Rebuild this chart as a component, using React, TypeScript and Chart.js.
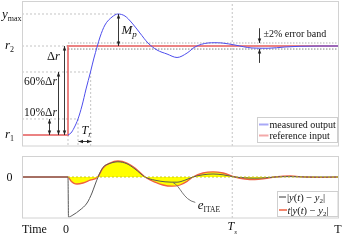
import React, { useEffect, useRef } from 'react';
import { Chart, registerables } from 'chart.js';

Chart.register(...registerables);

// ---- axis ranges & key levels ----
const X_MIN = -2.8;
const X_MAX = 16.5;
const Y_BOTTOM = -0.124;
const Y_TOP = 1.506;
const E_MIN = -1.025;
const E_MAX = 0.525;

const R1 = 0;
const R2 = 1;
const Y_MAX = 1.36;
const TEN_PCT = 0.18;
const SIXTY_PCT = 0.708;
const BAND = 0.034;
const T_10 = 0.61;
const T_60 = 1.38;
const T_PEAK = 3.04;
const T_S = 10;

// ---- measured output (step response) ----
const outputT = [0, 0.18, 0.37, 0.61, 0.85, 1.1, 1.37, 1.58, 1.77, 1.95, 2.25, 2.68, 3.04, 3.47, 3.9, 4.38, 4.87, 5.42, 6.03, 6.64, 7.25, 7.73, 8.52, 8.95, 9.38, 10.17, 11.2, 12.18, 13.21, 14.13, 15.34, 16.5];
const outputY = [0, 0.022, 0.079, 0.18, 0.326, 0.517, 0.708, 0.865, 0.989, 1.101, 1.236, 1.326, 1.36, 1.337, 1.258, 1.146, 1.034, 0.955, 0.91, 0.871, 0.921, 0.989, 1.034, 1.037, 1.034, 1.011, 0.978, 0.975, 0.989, 0.997, 1.0, 1.0];

// ---- reference input (step) ----
const referenceT = [X_MIN, 0, 0, X_MAX];
const referenceY = [R1, R1, R2, R2];

// ---- error |y(t) - y2| ----
const errT = [X_MIN, 0, 0.03, 0.3, 0.73, 1.16, 1.46, 1.64, 1.83, 2.13, 2.56, 3.04, 3.59, 4.08, 4.69, 5.3, 5.91, 6.64, 7.12, 7.61, 8.22, 8.83, 9.44, 10.17, 10.78, 11.38, 11.99, 12.6, 13.52, 14.43, 15.34, 16.5];
const errAbs = [0, 0, -1, -0.95, -0.825, -0.65, -0.4, -0.2, 0, 0.24, 0.34, 0.38, 0.33, 0.2, 0, -0.08, -0.12, -0.13, -0.08, 0, 0.055, 0.075, 0.055, 0, -0.02, -0.03, -0.02, 0, 0.01, 0, 0, 0];

// ---- time-weighted error t|y(t) - y2| ----
const itaeT = [X_MIN, 0, 0.18, 0.37, 0.55, 0.91, 1.34, 1.81, 2.13, 2.56, 3.04, 3.59, 4.08, 4.69, 5.3, 5.78, 6.33, 6.82, 7.25, 7.61, 8.22, 8.83, 9.44, 10.17, 10.78, 11.38, 11.99, 12.6, 13.52, 14.43, 15.34, 16.5];
const itaeVal = [0, 0, -0.1, -0.16, -0.175, -0.15, -0.08, 0, 0.225, 0.35, 0.4, 0.35, 0.225, 0, -0.13, -0.2, -0.23, -0.2, -0.11, 0, 0.1, 0.13, 0.1, 0, -0.05, -0.065, -0.04, 0, 0.025, 0, -0.008, 0];

// ---- text ----
const topLegend = ['measured output', 'reference input'];
const timeLabels = ['Time', '0', 'T', 'T'];

const SERIF = '"Liberation Serif", "DejaVu Serif", serif';

const mk = (ts: number[], ys: number[]) => ts.map((t, i) => ({ x: t, y: ys[i] }));

function arrow(ctx: CanvasRenderingContext2D, x1: number, y1: number, x2: number, y2: number, h1: boolean, h2: boolean) {
  const ang = Math.atan2(y2 - y1, x2 - x1);
  const L = 4.5, W = 1.7;
  ctx.lineWidth = 0.9;
  ctx.beginPath(); ctx.moveTo(x1, y1); ctx.lineTo(x2, y2); ctx.stroke();
  const head = (x: number, y: number, a: number) => {
    ctx.beginPath();
    ctx.moveTo(x, y);
    ctx.lineTo(x - L * Math.cos(a) + W * Math.sin(a), y - L * Math.sin(a) - W * Math.cos(a));
    ctx.lineTo(x - L * Math.cos(a) - W * Math.sin(a), y - L * Math.sin(a) + W * Math.cos(a));
    ctx.closePath(); ctx.fill();
  };
  if (h2) head(x2, y2, ang);
  if (h1) head(x1, y1, ang + Math.PI);
}

type Part = { t: string; f: string; dy?: number };
function rich(ctx: CanvasRenderingContext2D, x: number, y: number, parts: Part[], align: 'left' | 'center' = 'left') {
  let w = 0;
  for (const p of parts) { ctx.font = p.f; w += ctx.measureText(p.t).width; }
  let cx = align === 'center' ? x - w / 2 : x;
  ctx.textAlign = 'left'; ctx.textBaseline = 'alphabetic';
  for (const p of parts) {
    ctx.font = p.f;
    ctx.fillText(p.t, cx, y + (p.dy || 0));
    cx += ctx.measureText(p.t).width;
  }
}

const it = (s: number) => `italic ${s}px ${SERIF}`;
const rm = (s: number) => `${s}px ${SERIF}`;

function guide(xs: number[], ys: number[], color: string, dash: number[]) {
  return { data: mk(xs, ys), borderColor: color, borderWidth: 1, borderDash: dash, pointRadius: 0, tension: 0, fill: false };
}

const topPlugin = {
  id: 'topAnno',
  afterDraw(chart: any) {
    const { ctx, chartArea: a, scales } = chart;
    const X = (v: number) => Math.round(scales.x.getPixelForValue(v)) + 0.5;
    const Y = (v: number) => scales.y.getPixelForValue(v);
    ctx.save();
    ctx.strokeStyle = '#d2d2d2'; ctx.lineWidth = 1;
    ctx.strokeRect(a.left + 0.5, a.top + 0.5, a.right - a.left - 1, a.bottom - a.top - 0.5);

    ctx.strokeStyle = '#222'; ctx.fillStyle = '#222';
    arrow(ctx, X(-1.16), Y(TEN_PCT), X(-1.16), Y(R1), true, true);
    arrow(ctx, X(-0.61), Y(SIXTY_PCT), X(-0.61), Y(R1), true, true);
    arrow(ctx, X(-0.27), Y(R2), X(-0.27), Y(R1), true, true);
    arrow(ctx, X(T_PEAK), Y(Y_MAX), X(T_PEAK), Y(R2), true, true);
    const trY = Math.round(Y(-0.067)) + 0.5;
    arrow(ctx, X(T_10), trY, X(T_60), trY, true, true);
    arrow(ctx, X(11.63), Y(1.2), X(11.63), Y(R2 + BAND), false, true);
    arrow(ctx, X(11.63), Y(0.81), X(11.63), Y(R2 - BAND), false, true);

    ctx.fillStyle = '#111';
    rich(ctx, 2, Y(Y_MAX) + 4, [{ t: 'y', f: it(13) }, { t: 'max', f: rm(8), dy: 3 }]);
    rich(ctx, 5, Y(R2) + 3, [{ t: 'r', f: it(13) }, { t: '2', f: rm(8), dy: 3 }]);
    rich(ctx, 5, Y(R1) + 3, [{ t: 'r', f: it(13) }, { t: '1', f: rm(8), dy: 3 }]);
    rich(ctx, 47, 60, [{ t: 'Δ', f: rm(12.5) }, { t: 'r', f: it(12.5) }]);
    rich(ctx, 24, Y(SIXTY_PCT) + 13, [{ t: '60%Δ', f: rm(11.5) }, { t: 'r', f: it(11.5) }]);
    rich(ctx, 24, Y(TEN_PCT) - 3, [{ t: '10%Δ', f: rm(11.5) }, { t: 'r', f: it(11.5) }]);
    rich(ctx, X(T_PEAK) + 3, Y((Y_MAX + R2) / 2) + 4, [{ t: 'M', f: it(13) }, { t: 'p', f: it(9), dy: 3 }]);
    rich(ctx, X(T_10) + 3, trY - 8, [{ t: 'T', f: it(12) }, { t: 'r', f: it(8), dy: 3 }]);
    rich(ctx, X(11.63) + 4, 37, [{ t: '±2% error band', f: rm(10) }]);

    // legend
    const bx = a.right - 81.5, by = a.bottom - 28.5, bw = 80, bh = 25;
    ctx.fillStyle = '#fff'; ctx.fillRect(bx, by, bw, bh);
    ctx.strokeStyle = '#cfcfcf'; ctx.lineWidth = 1; ctx.strokeRect(bx, by, bw, bh);
    ctx.lineWidth = 2;
    ctx.strokeStyle = 'rgba(110,110,240,0.6)';
    ctx.beginPath(); ctx.moveTo(bx + 1.5, by + 7); ctx.lineTo(bx + 11, by + 7); ctx.stroke();
    ctx.strokeStyle = 'rgba(235,110,110,0.6)';
    ctx.beginPath(); ctx.moveTo(bx + 1.5, by + 18); ctx.lineTo(bx + 11, by + 18); ctx.stroke();
    ctx.fillStyle = '#111';
    rich(ctx, bx + 12, by + 10.5, [{ t: topLegend[0], f: rm(10) }]);
    rich(ctx, bx + 12, by + 21.5, [{ t: topLegend[1], f: rm(10) }]);
    ctx.restore();
  },
};

const bottomPlugin = {
  id: 'bottomAnno',
  afterDraw(chart: any) {
    const { ctx, chartArea: a, scales } = chart;
    const X = (v: number) => scales.x.getPixelForValue(v);
    const Y = (v: number) => scales.y.getPixelForValue(v);
    ctx.save();
    ctx.strokeStyle = '#d2d2d2'; ctx.lineWidth = 1;
    ctx.strokeRect(a.left + 0.5, a.top + 0.5, a.right - a.left - 1, a.bottom - a.top - 0.5);

    ctx.fillStyle = '#111';
    rich(ctx, 9.5, Y(0) + 4, [{ t: '0', f: rm(12) }], 'center');

    // leader to e_ITAE
    ctx.strokeStyle = '#666'; ctx.lineWidth = 0.9;
    ctx.beginPath();
    ctx.moveTo(X(6.4), Y(-0.14));
    ctx.bezierCurveTo(X(6.85), Y(-0.22), X(7.0), Y(-0.57), X(7.75), Y(-0.635));
    ctx.stroke();
    rich(ctx, X(7.9), a.bottom - 9, [{ t: 'e', f: it(13) }, { t: 'ITAE', f: rm(7.5), dy: 3 }]);

    // time labels
    const base = a.bottom + 15;
    rich(ctx, a.left, base, [{ t: timeLabels[0], f: rm(12) }]);
    rich(ctx, X(0) - 2, base, [{ t: timeLabels[1], f: rm(12) }], 'center');
    rich(ctx, X(T_S), base - 3, [{ t: timeLabels[2], f: it(12) }, { t: 's', f: it(7), dy: 4 }], 'center');
    rich(ctx, X(X_MAX) - 1, base, [{ t: timeLabels[3], f: rm(12) }], 'center');

    // legend
    const bx = a.right - 61.5, by = a.bottom - 26.5, bw = 60.5, bh = 25;
    ctx.fillStyle = '#fff'; ctx.fillRect(bx, by, bw, bh);
    ctx.strokeStyle = '#cfcfcf'; ctx.lineWidth = 1; ctx.strokeRect(bx, by, bw, bh);
    ctx.lineWidth = 1.5;
    ctx.strokeStyle = '#7a7a7a';
    ctx.beginPath(); ctx.moveTo(bx + 1.5, by + 5.5); ctx.lineTo(bx + 8.5, by + 5.5); ctx.stroke();
    ctx.strokeStyle = '#f06040';
    ctx.beginPath(); ctx.moveTo(bx + 1.5, by + 18.5); ctx.lineTo(bx + 9.5, by + 18.5); ctx.stroke();
    ctx.fillStyle = '#111';
    const f = it(10.5);
    rich(ctx, bx + 9.5, by + 9, [{ t: '|', f: rm(10.5) }, { t: 'y', f }, { t: '(', f: rm(10.5) }, { t: 't', f }, { t: ') − ', f: rm(10.5) }, { t: 'y', f }, { t: '2', f: rm(7), dy: 2 }, { t: '|', f: rm(10.5) }]);
    rich(ctx, bx + 10, by + 22, [{ t: 't', f }, { t: '|', f: rm(10.5) }, { t: 'y', f }, { t: '(', f: rm(10.5) }, { t: 't', f }, { t: ') − ', f: rm(10.5) }, { t: 'y', f }, { t: '2', f: rm(7), dy: 2 }, { t: '|', f: rm(10.5) }]);
    ctx.restore();
  },
};

export default function App() {
  const topRef = useRef<HTMLCanvasElement>(null);
  const botRef = useRef<HTMLCanvasElement>(null);

  useEffect(() => {
    const light = '#c4c4c4';
    const top = new Chart(topRef.current as HTMLCanvasElement, {
      type: 'line',
      data: {
        datasets: [
          { data: mk(outputT, outputY), borderColor: '#4d4dec', borderWidth: 1, pointRadius: 0, cubicInterpolationMode: 'monotone', fill: false },
          { data: mk(referenceT, referenceY), borderColor: 'rgba(228,88,88,0.75)', borderWidth: 2, pointRadius: 0, tension: 0, fill: false },
          guide([X_MIN, T_PEAK], [Y_MAX, Y_MAX], light, [2, 2]),
          guide([X_MIN, 0], [R2, R2], light, [2, 2]),
          guide([X_MIN, T_60], [SIXTY_PCT, SIXTY_PCT], light, [2, 2]),
          guide([X_MIN, T_10], [TEN_PCT, TEN_PCT], light, [2, 2]),
          guide([0, X_MAX], [R2 + BAND, R2 + BAND], '#b0b0b0', [1.5, 1.5]),
          guide([0, X_MAX], [R2 - BAND, R2 - BAND], '#808080', [1.5, 1.5]),
          guide([0, 0], [R1, Y_BOTTOM], light, [2, 2]),
          guide([T_10, T_10], [TEN_PCT, Y_BOTTOM], light, [2, 2]),
          guide([T_60, T_60], [SIXTY_PCT, Y_BOTTOM], light, [2, 2]),
          guide([T_S, T_S], [Y_BOTTOM, Y_TOP], light, [2, 2]),
        ] as any,
      },
      options: {
        responsive: false,
        animation: false,
        devicePixelRatio: 1,
        events: [],
        layout: { padding: { left: 22, right: 10, top: 1, bottom: 4 } },
        scales: {
          x: { type: 'linear', min: X_MIN, max: X_MAX, display: false },
          y: { type: 'linear', min: Y_BOTTOM, max: Y_TOP, display: false },
        },
        plugins: { legend: { display: false }, tooltip: { enabled: false } },
      },
      plugins: [topPlugin],
    });

    const bottom = new Chart(botRef.current as HTMLCanvasElement, {
      type: 'line',
      data: {
        datasets: [
          guide([0, X_MAX], [0, 0], '#c8c820', [2, 2]),
          { data: mk(errT, errAbs), borderColor: '#585858', borderWidth: 1, pointRadius: 0, cubicInterpolationMode: 'monotone', fill: false },
          { data: mk(itaeT, itaeVal), borderColor: '#f06040', borderWidth: 1.3, pointRadius: 0, cubicInterpolationMode: 'monotone', fill: { value: 0 }, backgroundColor: '#ffff00' },
          guide([T_S, T_S], [E_MIN, E_MAX], '#c4c4c4', [2, 2]),
        ] as any,
      },
      options: {
        responsive: false,
        animation: false,
        devicePixelRatio: 1,
        events: [],
        layout: { padding: { left: 22, right: 10, top: 6, bottom: 22 } },
        scales: {
          x: { type: 'linear', min: X_MIN, max: X_MAX, display: false },
          y: { type: 'linear', min: E_MIN, max: E_MAX, display: false },
        },
        plugins: { legend: { display: false }, tooltip: { enabled: false }, filler: { drawTime: 'beforeDatasetsDraw' } } as any,
      },
      plugins: [bottomPlugin],
    });

    return () => { top.destroy(); bottom.destroy(); };
  }, []);

  return (
    <div style={{ position: 'absolute', left: 0, top: 0, width: 349, height: 240, background: '#fff' }}>
      <canvas ref={topRef} width={349} height={150} style={{ position: 'absolute', left: 0, top: 0, width: 349, height: 150 }} />
      <canvas ref={botRef} width={349} height={90} style={{ position: 'absolute', left: 0, top: 150, width: 349, height: 90 }} />
    </div>
  );
}
